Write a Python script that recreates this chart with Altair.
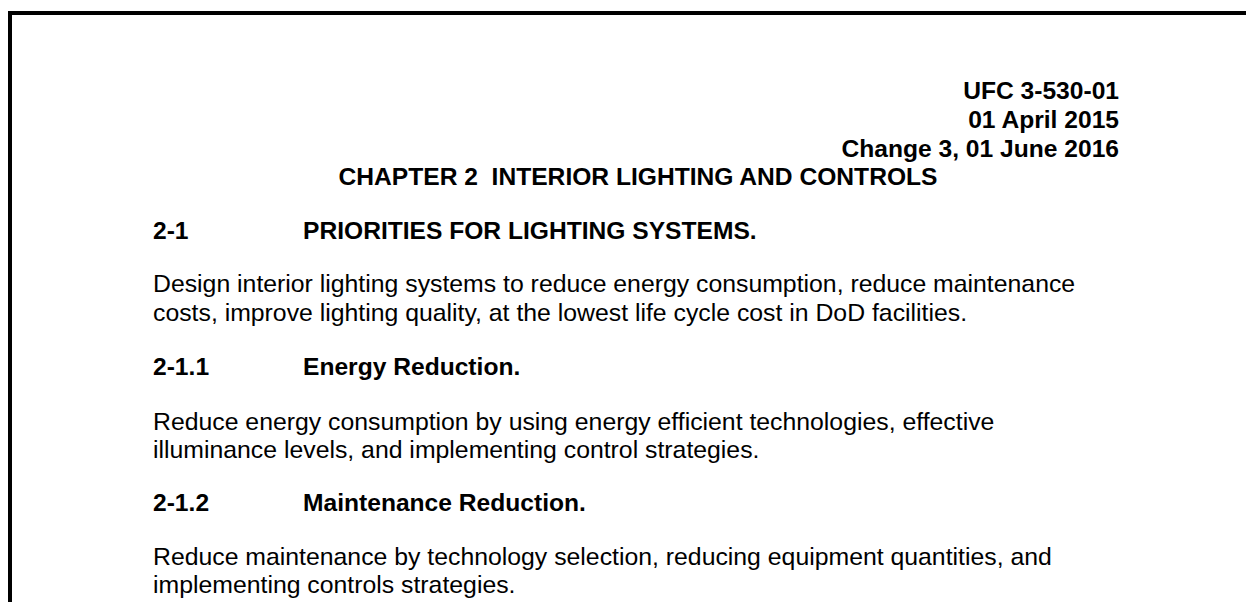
import altair as alt
import pandas as pd

# ---- document text (content) ----
header_lines = ["UFC 3-530-01", "01 April 2015", "Change 3, 01 June 2016"]
chapter_title = "CHAPTER 2\u00a0 INTERIOR LIGHTING AND CONTROLS"
section_numbers = ["2-1", "2-1.1", "2-1.2"]
section_titles = ["PRIORITIES FOR LIGHTING SYSTEMS.", "Energy Reduction.", "Maintenance Reduction."]
body_lines = [
    "Design interior lighting systems to reduce energy consumption, reduce maintenance",
    "costs, improve lighting quality, at the lowest life cycle cost in DoD facilities.",
    "Reduce energy consumption by using energy efficient technologies, effective",
    "illuminance levels, and implementing control strategies.",
    "Reduce maintenance by technology selection, reducing equipment quantities, and",
    "implementing controls strategies.",
]

# ---- page layout (reference page pixel coordinates) ----
W, H = 1238, 594
X0, Y0 = 8, 8
header_baselines = [99, 128, 157]
chapter_baseline = 185
section_baselines = [239, 375, 511]
body_baselines = [292, 321, 430, 458, 565, 593]
RIGHT_EDGE, CENTER_X, NUM_X, TITLE_X, BODY_X = 1119, 638, 153, 303, 153
FS_BOLD = 24.6
FS_BODY = 24.8
FONT = "Liberation Sans"

header_df = pd.DataFrame({"text": header_lines, "x": RIGHT_EDGE, "y": header_baselines})
chapter_df = pd.DataFrame({"text": [chapter_title], "x": [CENTER_X], "y": [chapter_baseline]})
sec_df = pd.DataFrame({
    "text": section_numbers + section_titles,
    "x": [NUM_X] * 3 + [TITLE_X] * 3,
    "y": section_baselines * 2,
})
body_df = pd.DataFrame({"text": body_lines, "x": BODY_X, "y": body_baselines})

xs = alt.Scale(domain=[X0, X0 + W], nice=False, zero=False)
ys = alt.Scale(domain=[Y0, Y0 + H], nice=False, zero=False, reverse=True)
X = alt.X("x:Q", scale=xs, axis=None)
Y = alt.Y("y:Q", scale=ys, axis=None)


def text_layer(df, align, weight, size):
    return alt.Chart(df).mark_text(
        align=align, baseline="alphabetic", font=FONT, fontSize=size,
        fontWeight=weight, color="#000000",
    ).encode(x=X, y=Y, text="text:N")


frame_top = pd.DataFrame({"x": [X0], "x2": [X0 + W], "y": [13]})
frame_left = pd.DataFrame({"x": [10], "y": [11], "y2": [Y0 + H]})

top_rule = alt.Chart(frame_top).mark_rule(color="#000000", strokeWidth=4).encode(
    x=X, x2="x2:Q", y=Y)
left_rule = alt.Chart(frame_left).mark_rule(color="#000000", strokeWidth=4).encode(
    x=X, y=Y, y2="y2:Q")

chart = alt.layer(
    top_rule,
    left_rule,
    text_layer(header_df, "right", "bold", FS_BOLD),
    text_layer(chapter_df, "center", "bold", FS_BOLD),
    text_layer(sec_df, "left", "bold", FS_BOLD),
    text_layer(body_df, "left", "normal", FS_BODY),
).properties(
    width=W, height=H, padding=0, autosize=alt.AutoSizeParams(type="none"),
    background="#ffffff",
).configure_view(stroke=None)

chart.save("out.html", embed_options={"renderer": "svg", "actions": False})
